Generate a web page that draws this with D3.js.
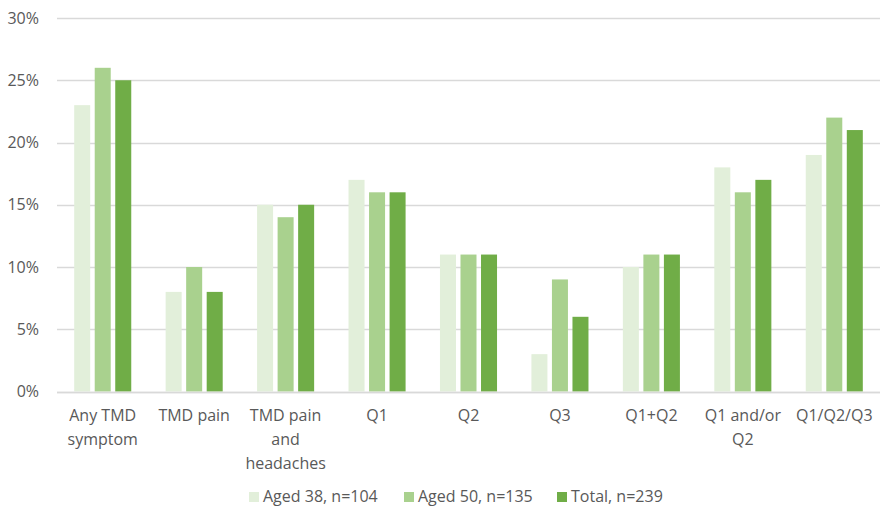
<!DOCTYPE html>
<html><head><meta charset="utf-8">
<script src="https://cdn.jsdelivr.net/npm/d3@7"></script>
<style>
html,body{margin:0;padding:0;background:#fff;}
svg{display:block;font-family:"Open Sans",Lato,sans-serif;}
</style></head>
<body>
<svg id="chart" width="884" height="508"></svg>
<script>
const categories = ["Any TMD symptom","TMD pain","TMD pain and headaches","Q1","Q2","Q3","Q1+Q2","Q1 and/or Q2","Q1/Q2/Q3"];
const categoryLines = [["Any TMD","symptom"],["TMD pain"],["TMD pain","and","headaches"],["Q1"],["Q2"],["Q3"],["Q1+Q2"],["Q1 and/or","Q2"],["Q1/Q2/Q3"]];
const seriesNames = ["Aged 38, n=104","Aged 50, n=135","Total, n=239"];
const aged38 = [23,8,15,17,11,3,10,18,19];
const aged50 = [26,10,14,16,11,9,11,16,22];
const total = [25,8,15,16,11,6,11,17,21];
const yTicks = [0,5,10,15,20,25,30];
const colors = ["#e2efda","#a9d18e","#70ad47"];

(function(){
const seriesValues = [aged38, aged50, total];
const svg = d3.select("#chart");
const mLeft = 57, mRight = 880, mTop = 18, mBottom = 391.5;
const FS = "16px";

const x0 = d3.scaleBand().domain(categories).range([mLeft, mRight]).paddingInner(0.376).paddingOuter(0.188);
const x1 = d3.scaleBand().domain(seriesNames).range([0, x0.bandwidth()]).paddingInner(0.22);
const y = d3.scaleLinear().domain([0,30]).range([mBottom, mTop]);

const grid = svg.append("g").attr("class","grid");
grid.selectAll("line").data(yTicks).join("line")
  .attr("x1", mLeft).attr("x2", mRight)
  .attr("y1", d => Math.round(y(d)) + 0.5).attr("y2", d => Math.round(y(d)) + 0.5)
  .attr("stroke", "#d9d9d9").attr("stroke-width", 1.3);

const yAxis = d3.axisLeft(y).tickValues(yTicks).tickFormat(d => d + "%").tickSize(0).tickPadding(0);
const ya = svg.append("g").attr("transform", `translate(${mLeft-18},0)`).call(yAxis);
ya.select(".domain").remove();
ya.selectAll("text").attr("fill","#595959").style("font-size",FS).style("font-family","'Open Sans',Lato,sans-serif");

const groups = svg.append("g").selectAll("g").data(categories).join("g")
  .attr("transform", d => `translate(${x0(d)},0)`);
groups.selectAll("rect").data((c, i) => seriesNames.map((s, j) => ({s, v: seriesValues[j][i], j})))
  .join("rect")
  .attr("x", d => x1(d.s))
  .attr("width", x1.bandwidth())
  .attr("y", d => y(d.v))
  .attr("height", d => y(0) - y(d.v))
  .attr("fill", d => colors[d.j]);

svg.append("line").attr("x1", mLeft).attr("x2", mRight)
  .attr("y1", Math.round(y(0))+0.5).attr("y2", Math.round(y(0))+0.5)
  .attr("stroke","#d9d9d9").attr("stroke-width",1.3);

const xl = svg.append("g");
categories.forEach((c, i) => {
  const cx = x0(c) + x0.bandwidth()/2;
  const t = xl.append("text")
    .attr("x", cx).attr("y", 421)
    .attr("text-anchor","middle")
    .attr("fill","#595959")
    .style("font-size",FS);
  categoryLines[i].forEach((line, k) => {
    t.append("tspan").attr("x", cx).attr("dy", k === 0 ? 0 : 24).text(line);
  });
});

const legendX = [249, 404, 557];
const lg = svg.append("g");
seriesNames.forEach((s, j) => {
  lg.append("rect").attr("x", legendX[j]).attr("y", 492).attr("width", 10).attr("height", 10).attr("fill", colors[j]);
  lg.append("text").attr("x", legendX[j] + 14).attr("y", 502).attr("fill","#595959").style("font-size",FS).text(s);
});
})();
</script>
</body></html>
